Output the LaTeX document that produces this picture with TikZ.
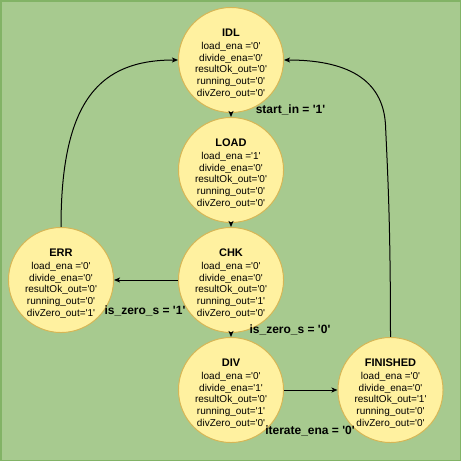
\documentclass[tikz,border=0pt]{standalone}
\usepackage{fontspec}
\setmainfont{Liberation Sans}[Ligatures=TeXOff]
\usetikzlibrary{arrows.meta}
\definecolor{bgfill}{RGB}{167,202,143}
\definecolor{bgline}{RGB}{130,179,102}
\definecolor{stfill}{RGB}{255,241,160}
\definecolor{stline}{RGB}{214,182,86}
\tikzset{
  state/.style={circle, draw=stline, fill=stfill, line width=1pt, minimum size=100pt, inner sep=0pt, align=center, font=\fontsize{10}{11.75}\selectfont},
  trans/.style={draw=black, line width=1pt, -{Stealth[length=6pt,width=5pt,inset=1.5pt]}},
  lbl/.style={font=\bfseries\fontsize{12}{14}\selectfont, inner sep=0pt}
}
\newcommand{\ttl}[1]{{\bfseries\fontsize{11}{13}\selectfont\rule{0pt}{15pt}#1}\\[1pt]}
\begin{document}
\begin{tikzpicture}[x=1pt,y=-1pt]
\useasboundingbox (0,0) rectangle (461,461);
\fill[bgfill] (0,0) rectangle (461,461);
\draw[bgline, line width=1.5pt] (0.75,0.75) rectangle (460.25,460.25);

\node[state] (idl) at (231,60) {\ttl{IDL}load\_ena ='0'\\divide\_ena='0'\\resultOk\_out='0'\\running\_out='0'\\divZero\_out='0'};
\node[state] (load) at (231,170) {\ttl{LOAD}load\_ena ='1'\\divide\_ena='0'\\resultOk\_out='0'\\running\_out='0'\\divZero\_out='0'};
\node[state] (chk) at (231,280) {\ttl{CHK}load\_ena ='0'\\divide\_ena='0'\\resultOk\_out='0'\\running\_out='1'\\divZero\_out='0'};
\node[state] (err) at (61,280) {\ttl{ERR}load\_ena ='0'\\divide\_ena='0'\\resultOk\_out='0'\\running\_out='0'\\divZero\_out='1'};
\node[state] (div) at (231,390) {\ttl{DIV}load\_ena ='0'\\divide\_ena='1'\\resultOk\_out='0'\\running\_out='1'\\divZero\_out='0'};
\node[state] (fin) at (390.5,390) {\ttl{FINISHED}load\_ena ='0'\\divide\_ena='0'\\resultOk\_out='1'\\running\_out='0'\\divZero\_out='0'};

\draw[trans] (idl.south) -- (load.north);
\draw[trans] (load.south) -- (chk.north);
\draw[trans] (chk.south) -- (div.north);
\draw[trans] (chk.west) -- (err.east);
\draw[trans] (div.east) -- (fin.west);
\draw[trans] (err.north) .. controls (61,100) and (100,60) .. (idl.west);
\coordinate (bend) at (385.5,125);
\draw[trans] (fin.north) .. controls (390.5,220) and (387.5,170) .. (bend) .. controls (383,78) and (345,60) .. (idl.east);

\node[lbl] (l1) at (290.5,110) {start\_in = '1'};
\node[lbl] (l2) at (145,311) {is\_zero\_s = '1'};
\node[lbl] (l3) at (290,330) {is\_zero\_s = '0'};
\node[lbl] (l4) at (310,431) {iterate\_ena = '0'};
\end{tikzpicture}
\end{document}
